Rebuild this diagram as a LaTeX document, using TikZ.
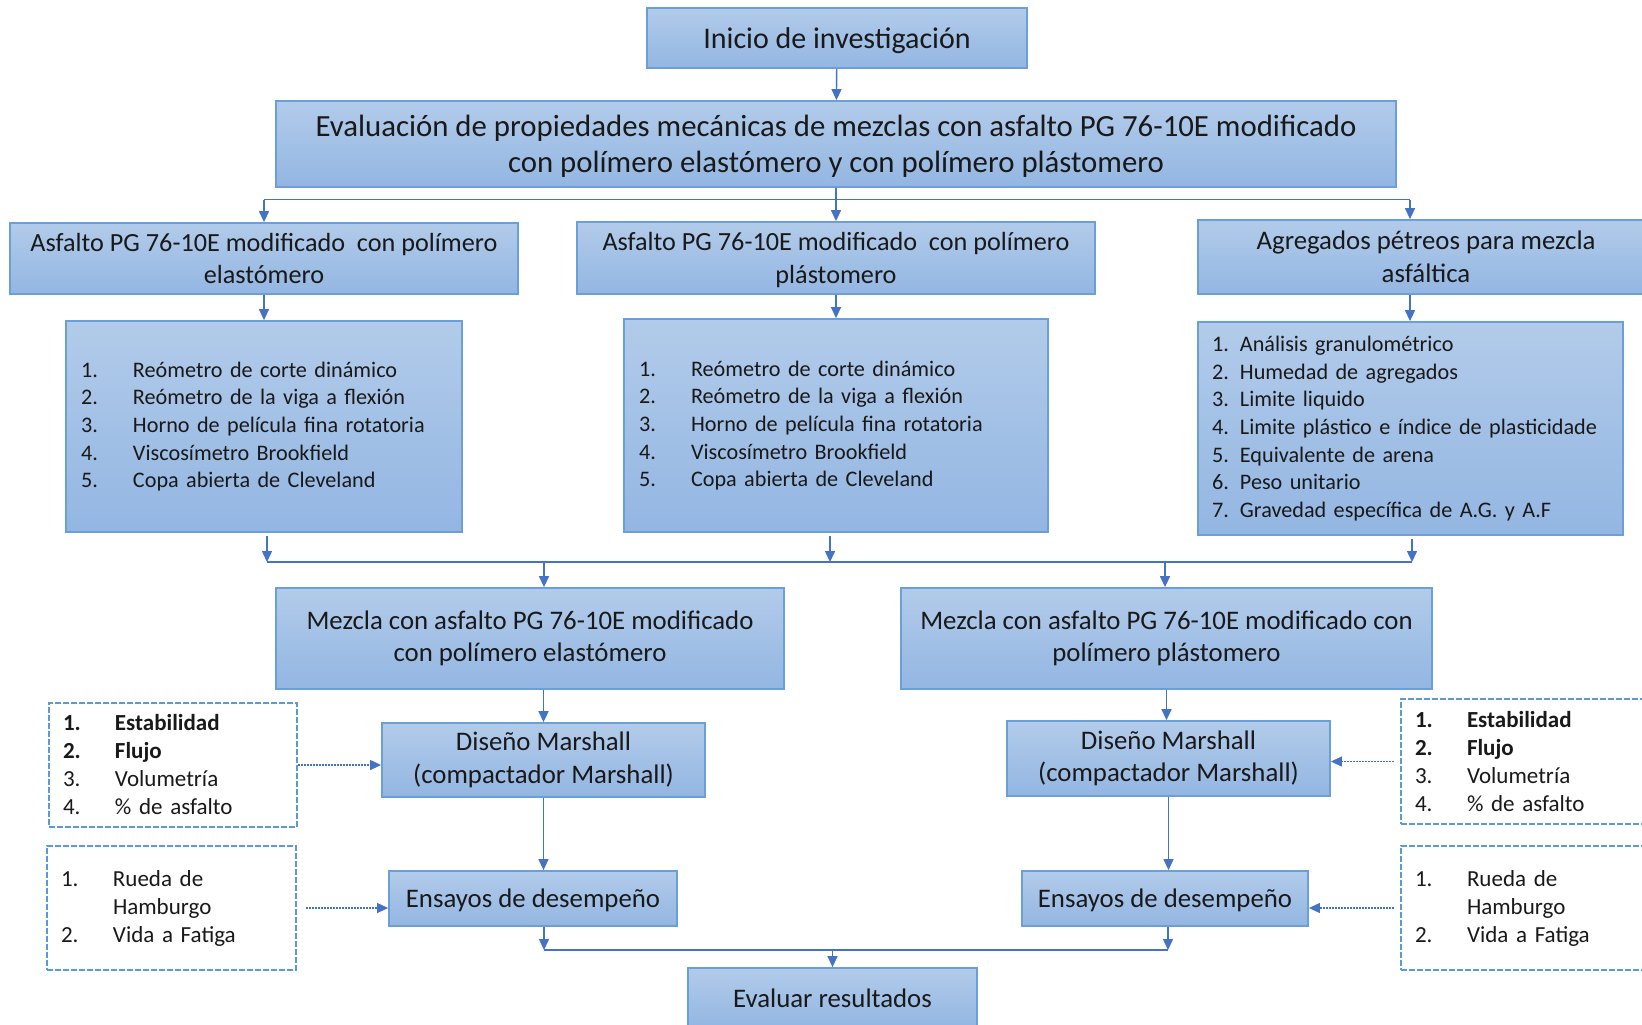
\documentclass[tikz,border=0pt]{standalone}
\usepackage{fontspec}
\setmainfont{Carlito}
\usetikzlibrary{positioning}
\usetikzlibrary{arrows.meta}

\definecolor{azulsup}{HTML}{B2CBEA}
\definecolor{azulinf}{HTML}{93B6E2}
\definecolor{bordeazul}{HTML}{6A9FD8}
\definecolor{lineaazul}{HTML}{4472C4}
\definecolor{trazo}{HTML}{5B9BD5}

\newcommand{\elem}[2]{\makebox[26pt][l]{#1}#2}

\begin{document}
\begin{tikzpicture}[x=0.5pt, y=-0.5pt,
  caja/.style={draw=bordeazul, line width=0.9pt, top color=azulsup, bottom color=azulinf,
    align=center, inner sep=0pt, text=black!90, font=\fontsize{13.4}{16.3}\selectfont},
  lista/.style={caja, align=left, inner xsep=7.5pt, font=\fontsize{11.1}{13.85}\selectfont},
  punteada/.style={draw=trazo, line width=1.1pt, dash pattern=on 3pt off 1pt, align=left,
    inner xsep=7pt, inner ysep=0pt, text=black!90, font=\fontsize{11.5}{14}\selectfont},
  con/.style={draw=lineaazul, line width=0.7pt},
  flecha/.style={con, -{Triangle[length=5.5pt,width=5pt]}},
  guia/.style={flecha, line width=0.6pt, dash pattern=on 1pt off 0.5pt}
]
  \useasboundingbox (0,0) rectangle (1642,1024);
  \clip (0,0) rectangle (1642,1024);
  \fill[white] (0,0) rectangle (1642,1024);

  % cajas principales
  \node[caja, minimum width=190pt, minimum height=30pt, text depth=0pt, font=\fontsize{15}{18}\selectfont] (inicio) at (837,38) {Inicio de investigación};
  \node[caja, minimum width=560pt, minimum height=43pt, text depth=0pt, font=\fontsize{15.4}{18}\selectfont] (eval) at (836,144)
    {Evaluación de propiedades mecánicas de mezclas con asfalto PG 76-10E modificado\\con polímero elastómero y con polímero plástomero};

  \node[caja, minimum width=254pt, minimum height=35.5pt, font=\fontsize{13.1}{16.3}\selectfont] (asfE) at (264,258.5) {Asfalto PG 76-10E modificado \ con polímero\\elastómero};
  \node[caja, minimum width=259pt, minimum height=36pt, text depth=0pt, font=\fontsize{13.1}{16.3}\selectfont] (asfP) at (836,258) {Asfalto PG 76-10E modificado \ con polímero\\plástomero};
  \node[caja, minimum width=228pt, minimum height=37pt] (agreg) at (1426,257) {Agregados pétreos para mezcla\\asfáltica};

  % ensayos de cada material
  \node[lista, minimum height=105.5pt, text width=183pt] (listE) at (264,426.5)
    {\elem{1.}{Reómetro de corte dinámico}\\\elem{2.}{Reómetro de la viga a flexión}\\\elem{3.}{Horno de película fina rotatoria}\\\elem{4.}{Viscosímetro Brookfield}\\\elem{5.}{Copa abierta de Cleveland}};
  \node[lista, minimum height=106.5pt, text width=197pt] (listP) at (836,425.5)
    {\elem{1.}{Reómetro de corte dinámico}\\\elem{2.}{Reómetro de la viga a flexión}\\\elem{3.}{Horno de película fina rotatoria}\\\elem{4.}{Viscosímetro Brookfield}\\\elem{5.}{Copa abierta de Cleveland}};
  \node[lista, inner xsep=7pt, minimum height=106.5pt, text width=198.5pt] (listA) at (1410.5,428.5)
    {1. Análisis granulométrico\\2. Humedad de agregados\\3. Limite liquido\\4. Limite plástico e índice de plasticidade\\5. Equivalente de arena\\6. Peso unitario\\7. Gravedad específica de A.G. y A.F};

  % mezclas
  \node[caja, minimum width=254pt, minimum height=50.5pt] (mezE) at (530,638.5) {Mezcla con asfalto PG 76-10E modificado\\con polímero elastómero};
  \node[caja, minimum width=265.5pt, minimum height=50.5pt] (mezP) at (1166.5,638.5) {Mezcla con asfalto PG 76-10E modificado con\\polímero plástomero};

  \node[caja, minimum width=161.5pt, minimum height=37pt] (disE) at (543.5,760) {Diseño Marshall\\(compactador Marshall)};
  \node[caja, minimum width=161.5pt, minimum height=37.5pt] (disP) at (1168.5,758.5) {Diseño Marshall\\(compactador Marshall)};

  \node[caja, minimum width=144pt, minimum height=27.5pt, text depth=0pt] (ensE) at (533,898.5) {Ensayos de desempeño};
  \node[caja, minimum width=143pt, minimum height=27.5pt, text depth=0pt] (ensP) at (1165,898.5) {Ensayos de desempeño};

  \node[caja, minimum width=144.5pt, minimum height=30pt] (evalR) at (832.5,998) {Evaluar resultados};

  % parametros (cajas punteadas)
  \node[punteada, minimum height=62pt, text width=110pt] (parE) at (173,765)
    {\elem{\textbf{1.}}{\textbf{Estabilidad}}\\\elem{\textbf{2.}}{\textbf{Flujo}}\\\elem{3.}{Volumetría}\\\elem{4.}{\% de asfalto}};
  \node[punteada, minimum height=62.5pt, text width=110pt] (parP) at (1525,761.5)
    {\elem{\textbf{1.}}{\textbf{Estabilidad}}\\\elem{\textbf{2.}}{\textbf{Flujo}}\\\elem{3.}{Volumetría}\\\elem{4.}{\% de asfalto}};
  \node[punteada, minimum height=62pt, text width=110.5pt] (desE) at (171.5,908)
    {\elem{1.}{Rueda de}\\\elem{}{Hamburgo}\\\elem{2.}{Vida a Fatiga}};
  \node[punteada, minimum height=62pt, text width=110.5pt] (desP) at (1525.5,908)
    {\elem{1.}{Rueda de}\\\elem{}{Hamburgo}\\\elem{2.}{Vida a Fatiga}};

  % conectores
  \draw[flecha] (inicio) -- (eval);
  \coordinate (b1) at (264,199.5);
  \coordinate (b3) at (1410,199.5);
  \draw[con] (b1) -- (b3);
  \draw[flecha] (eval.south) -- (asfP.north);
  \draw[flecha] (b1) -- (b1 |- asfE.north);
  \draw[flecha] (b3) -- (b3 |- agreg.north);

  \draw[flecha] (asfE.south) -- (listE.north);
  \draw[flecha] (asfP.south) -- (listP.north);
  \draw[flecha] (b3 |- agreg.south) -- (b3 |- listA.north);

  \coordinate (c1) at (267,562);
  \coordinate (c2) at (830,562);
  \coordinate (c3) at (1412,562);
  \coordinate (c4) at (544,562);
  \coordinate (c5) at (1165,562);
  \draw[flecha, shorten <=1.5pt] (c1 |- listE.south) -- (c1);
  \draw[flecha, shorten <=1.5pt] (c2 |- listP.south) -- (c2);
  \draw[flecha, shorten <=1.5pt] (c3 |- listA.south) -- (c3);
  \draw[con] (c1) -- (c3);
  \draw[flecha] (c4) -- (c4 |- mezE.north);
  \draw[flecha] (c5) -- (c5 |- mezP.north);

  \draw[flecha] (mezE.south -| disE.north) -- (disE.north);
  \draw[flecha] (disE.south) -- (disE.south |- ensE.north);
  \draw[flecha] (mezP.south) -- (mezP.south |- disP.north);
  \draw[flecha] (disP.south) -- (disP.south |- ensP.north);

  \coordinate (d1) at (544,950);
  \coordinate (d2) at (1168,950);
  \coordinate (d3) at (832.5,950);
  \draw[flecha] (d1 |- ensE.south) -- (d1);
  \draw[flecha] (d2 |- ensP.south) -- (d2);
  \draw[con] (d1) -- (d2);
  \draw[flecha] (d3) -- (evalR.north);

  % flechas punteadas
  \draw[guia] (parE.east) -- (parE.east -| disE.west);
  \draw[guia, shorten <=4.5pt] (desE.east) -- (desE.east -| ensE.west);
  \draw[guia, shorten <=3pt] (parP.west) -- (parP.west -| disP.east);
  \draw[guia, shorten <=3pt] (desP.west) -- (desP.west -| ensP.east);

\end{tikzpicture}
\end{document}
